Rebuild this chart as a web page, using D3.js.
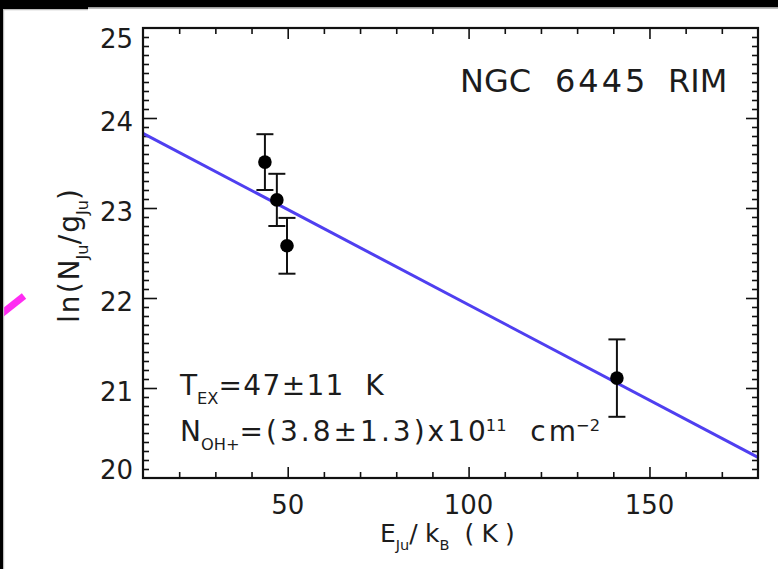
<!DOCTYPE html>
<html>
<head>
<meta charset="utf-8">
<script src="https://cdn.jsdelivr.net/npm/d3@7"></script>
<style>
  body { margin: 0; background: #fff; }
  svg text { font-family: "DejaVu Sans", "Liberation Sans", sans-serif; fill: #1c1c1c; white-space: pre; }
</style>
</head>
<body>
<svg id="chart" width="778" height="569"></svg>
<script>
// measured points: upper level energy (K) and ln(N/g)
const energy = [43.7, 47.0, 49.8, 141.0];
const lnN    = [23.51, 23.09, 22.58, 21.11];
const lnErr  = [0.31, 0.29, 0.31, 0.43];

// ends of the fitted line
const fitE  = [10, 180];
const fitLn = [23.83, 20.23];

// tick labels
const xLabels = [50, 100, 150];
const yLabels = [20, 21, 22, 23, 24, 25];

const svg = d3.select("#chart");

// --- frame of the screenshot (black border bits + stray pink mark) ---
svg.append("line")
    .attr("x1", 0).attr("y1", 315).attr("x2", 24).attr("y2", 296)
    .attr("stroke", "#ff2cf2").attr("stroke-width", 7);
svg.append("rect").attr("x", 0).attr("y", 0).attr("width", 778).attr("height", 7.5).attr("fill", "#000");
svg.append("rect").attr("x", 0).attr("y", 0).attr("width", 88).attr("height", 9).attr("fill", "#000");
svg.append("rect").attr("x", 0).attr("y", 0).attr("width", 3).attr("height", 569).attr("fill", "#000");
svg.append("line").attr("x1", 88).attr("x2", 778).attr("y1", 8.2).attr("y2", 8.2)
    .attr("stroke", "#bdbdbd").attr("stroke-width", 1.5);
svg.append("line").attr("x1", 3).attr("x2", 88).attr("y1", 9.6).attr("y2", 9.6)
    .attr("stroke", "#bdbdbd").attr("stroke-width", 1.2);
svg.append("line").attr("x1", 3.6).attr("x2", 3.6).attr("y1", 9).attr("y2", 569)
    .attr("stroke", "#bdbdbd").attr("stroke-width", 1.2);

// --- scales ---
const plot = { left: 143, right: 758, top: 28, bottom: 478 };
const x = d3.scaleLinear().domain([10, 180]).range([plot.left, plot.right]);
const y = d3.scaleLinear().domain([20, 25]).range([plot.bottom, plot.top]);

const inner = (v, lo, hi) => v > lo + 1e-6 && v < hi - 1e-6;
const xMinor = x.ticks(17).filter(v => inner(v, 10, 180) && !xLabels.includes(v));
const yMinor = y.ticks(50).filter(v => inner(v, 20, 25) && Math.abs(v - Math.round(v)) > 1e-6);
const yMajorIn = yLabels.filter(v => inner(v, 20, 25));

function tickAxis(axisFn, scale, values, size, transform) {
  const g = svg.append("g").attr("transform", transform)
      .call(axisFn(scale).tickValues(values).tickSize(size).tickFormat(""));
  g.select(".domain").remove();
  g.selectAll(".tick line").attr("stroke", "#111").attr("stroke-width", 1.6);
  return g;
}

// inward ticks on all four sides
tickAxis(d3.axisBottom, x, xMinor, -6, `translate(0,${plot.bottom})`);
tickAxis(d3.axisBottom, x, xLabels, -11, `translate(0,${plot.bottom})`);
tickAxis(d3.axisTop, x, xMinor, -6, `translate(0,${plot.top})`);
tickAxis(d3.axisTop, x, xLabels, -11, `translate(0,${plot.top})`);
tickAxis(d3.axisLeft, y, yMinor, -6, `translate(${plot.left},0)`);
tickAxis(d3.axisLeft, y, yMajorIn, -14, `translate(${plot.left},0)`);
tickAxis(d3.axisRight, y, yMinor, -6, `translate(${plot.right},0)`);
tickAxis(d3.axisRight, y, yMajorIn, -12, `translate(${plot.right},0)`);

// tick labels
svg.append("g").selectAll("text").data(xLabels).join("text")
    .attr("x", d => x(d)).attr("y", 514)
    .attr("text-anchor", "middle").attr("font-size", 26)
    .text(d => d);

svg.append("g").selectAll("text").data(yLabels).join("text")
    .attr("x", 133)
    .attr("y", d => Math.min(Math.max(y(d) + 3, plot.top + 10), plot.bottom - 9) + 9.5)
    .attr("text-anchor", "end").attr("font-size", 26)
    .text(d => d);

// --- fitted line ---
svg.append("path")
    .datum(d3.zip(fitE, fitLn))
    .attr("fill", "none").attr("stroke", "#4f3ff0").attr("stroke-width", 3)
    .attr("d", d3.line().x(d => x(d[0])).y(d => y(d[1])));

// --- error bars and points ---
const pts = energy.map((e, i) => ({ e, v: lnN[i], err: lnErr[i] }));
const bars = svg.append("g").attr("stroke", "#111").attr("stroke-width", 2);
pts.forEach(p => {
  bars.append("line").attr("x1", x(p.e)).attr("x2", x(p.e))
      .attr("y1", y(p.v + p.err)).attr("y2", y(p.v - p.err));
  [p.v + p.err, p.v - p.err].forEach(v => {
    bars.append("line").attr("x1", x(p.e) - 8.5).attr("x2", x(p.e) + 8.5)
        .attr("y1", y(v)).attr("y2", y(v));
  });
});
svg.append("g").selectAll("circle").data(pts).join("circle")
    .attr("cx", d => x(d.e)).attr("cy", d => y(d.v)).attr("r", 6.8).attr("fill", "#000");

// frame on top
svg.append("rect")
    .attr("x", plot.left).attr("y", plot.top)
    .attr("width", plot.right - plot.left).attr("height", plot.bottom - plot.top)
    .attr("fill", "none").attr("stroke", "#111").attr("stroke-width", 2.2);

// --- text with sub/superscripts; spacing of the main glyphs stretched to a target width ---
function richText(x0, y0, size, parts, len, rotate) {
  const t = svg.append("text").attr("font-size", size);
  if (rotate) t.attr("transform", `translate(${x0},${y0}) rotate(-90)`);
  else t.attr("x", x0).attr("y", y0);

  // a main run that is followed by a sub/superscript keeps its last glyph unspaced
  const runs = [];
  parts.forEach(([s, kind], i) => {
    const next = parts[i + 1];
    const beforeScript = !kind && next && next[1];
    if (beforeScript && s.length > 1) {
      runs.push([s.slice(0, -1), null, true]);
      runs.push([s.slice(-1), null, false]);
    } else {
      runs.push([s, kind, !kind && !beforeScript]);
    }
  });

  let shift = 0;
  const spaced = [];
  runs.forEach(([s, kind, stretch]) => {
    const target = kind === "sub" ? size * 0.32 : kind === "sup" ? -size * 0.36 : 0;
    const sp = t.append("tspan")
        .attr("dy", target - shift)
        .attr("font-size", kind ? size * 0.58 : size)
        .text(s);
    if (stretch) spaced.push(sp);
    shift = target;
  });
  if (len && spaced.length) {
    const natural = t.node().getComputedTextLength();
    const n = d3.sum(spaced, m => m.text().length);
    const ls = Math.max(0, (len - natural) / n);
    spaced.forEach(m => m.attr("letter-spacing", ls));
  }
  return t;
}

// title: words placed where they sit in the original
const title = svg.append("text").attr("y", 92).attr("font-size", 32);
title.append("tspan").attr("x", 460).text("NGC");
title.append("tspan").attr("x", 555).attr("letter-spacing", 3).text("6445");
title.append("tspan").attr("x", 668).text("RIM");

richText(180, 395, 28, [["T"], ["EX", "sub"], ["=47\u00b111  K"]], 205);
richText(180, 441, 28, [["N"], ["OH+", "sub"], ["=(3.8\u00b11.3)x10"], ["11", "sup"], ["  cm"], ["\u22122", "sup"]], 420);
richText(380, 542, 25, [["E"], ["Ju", "sub"], ["/k"], ["B", "sub"], [" (K)"]], 142);
richText(79, 323, 28, [["ln(N"], ["Ju", "sub"], ["/g"], ["Ju", "sub"], [")"]], 136, true);
</script>
</body>
</html>
